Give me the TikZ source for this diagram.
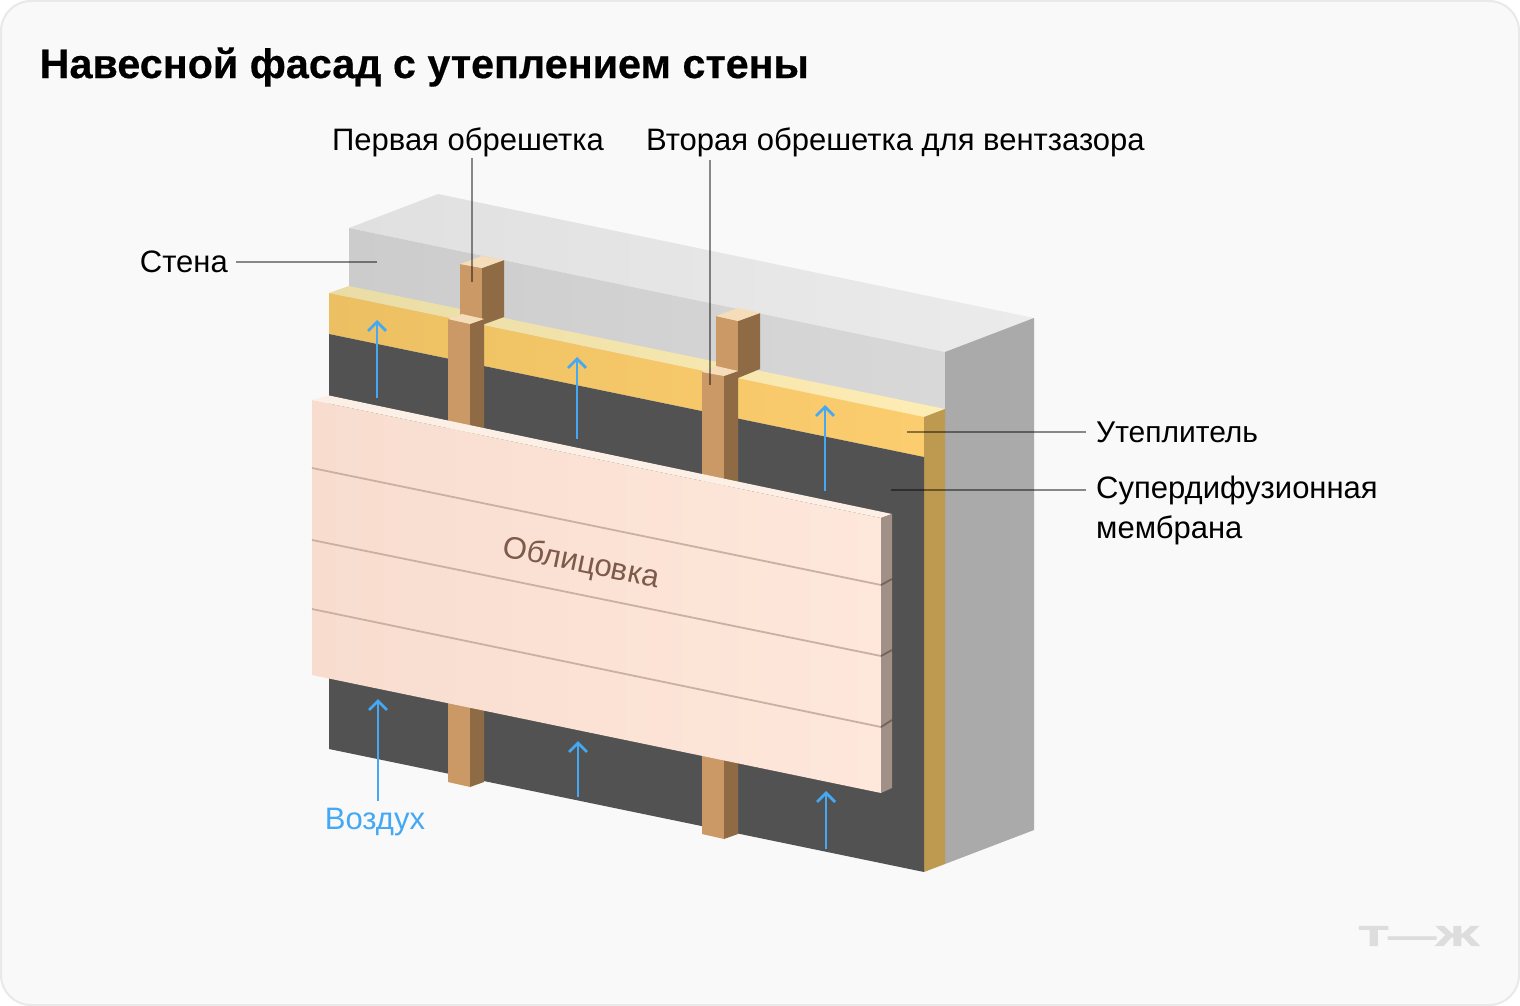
\documentclass[tikz,border=0pt]{standalone}
\usepackage{fontspec}
\setmainfont{Liberation Sans}
\newfontfamily\logofont[BoldFeatures={FakeBold=3}]{Liberation Sans}
\newfontfamily\headfont[BoldFeatures={FakeBold=0.4}]{Liberation Sans}
\usetikzlibrary{positioning, arrows.meta}
\definecolor{paper}{HTML}{F9F9F9}
\definecolor{paperline}{HTML}{E9E9E9}
\definecolor{airblue}{HTML}{45A8F5}
\definecolor{membrane}{HTML}{525252}
\definecolor{battenfront}{HTML}{CB9965}
\definecolor{battenside}{HTML}{8F6B45}
\definecolor{battentop}{HTML}{F5DDB9}
\definecolor{walltopl}{HTML}{E0E0E0}
\definecolor{walltopr}{HTML}{EBEBEB}
\definecolor{wallfrontl}{HTML}{CCCCCC}
\definecolor{wallfrontr}{HTML}{D8D8D8}
\definecolor{wallside}{HTML}{AAAAAA}
\definecolor{insultopl}{HTML}{E9DCA5}
\definecolor{insultopr}{HTML}{FEEDB5}
\definecolor{insulfrontl}{HTML}{ECC062}
\definecolor{insulfrontr}{HTML}{FCCD6E}
\definecolor{insulside}{HTML}{BD9A50}
\definecolor{cladl}{HTML}{F8DDCF}
\definecolor{cladr}{HTML}{FEE7DB}
\definecolor{cladtop}{HTML}{FCF0E6}
\definecolor{cladside}{HTML}{A19086}
\definecolor{cladseam}{HTML}{C9B0A2}
\definecolor{cladtext}{HTML}{7D5A4A}
\definecolor{logogrey}{HTML}{DDDDDD}
\tikzset{
callout/.style={inner sep=0pt, font=\fontsize{31}{40}\selectfont, text=black}, % the black captions
leader/.style={draw=black, draw opacity=0.45, line width=2pt}, % thin grey lines from the captions
airflow/.style={draw=airblue, line width=2.8pt, -{Straight Barb[length=9pt, width=18pt, line width=2.8pt]}}, % blue arrows
}
\begin{document}
\begin{tikzpicture}[x=1pt, y=-1pt]
            \useasboundingbox (0,0) rectangle (1520,1006);
            \fill[white] (0,0) rectangle (1520,1006);
            \draw[fill=paper, draw=paperline, line width=2pt, rounded corners=30pt] (1,1) rectangle (1519,1005);

            % wall
            \shade[left color=walltopl, right color=walltopr] (349,228) -- (438,194) -- (1034,318) -- (945,352) -- cycle;
            \shade[left color=wallfrontl, right color=wallfrontr] (349,228) -- (945,352) -- (945,420) -- (349,300) -- cycle;
            \fill[wallside] (945,352) -- (1034,318) -- (1034,830) -- (945,864) -- cycle;

            % insulation
            \shade[left color=insultopl, right color=insultopr] (329,293) -- (349,286) -- (945,409) -- (924,417) -- cycle;
            \shade[left color=insulfrontl, right color=insulfrontr] (329,293) -- (924,417) -- (924,457) -- (329,334) -- cycle;
            \fill[insulside] (924,417) -- (945,409) -- (945,864) -- (924,872) -- cycle;

            % membrane
            \fill[membrane] (329,334) -- (924,457) -- (924,872) -- (329,749) -- cycle;

            % first laths
            \fill[battenfront] (460,264) -- (482,268) -- (482,330) -- (460,325) -- cycle;
            \fill[battenside] (482,268) -- (504,260) -- (504,317) -- (482,325) -- cycle;
            \fill[battentop] (460,264) -- (482,256) -- (504,260) -- (482,268) -- cycle;
            \fill[battenfront] (716,316) -- (738,321) -- (738,380) -- (716,375) -- cycle;
            \fill[battenside] (738,321) -- (760,313) -- (760,369) -- (738,378) -- cycle;
            \fill[battentop] (716,316) -- (738,308) -- (760,313) -- (738,321) -- cycle;

            % second laths
            \fill[battenfront] (448,319) -- (470,324) -- (470,787) -- (448,782) -- cycle;
            \fill[battenside] (470,324) -- (484,319) -- (484,782) -- (470,787) -- cycle;
            \fill[battentop] (448,319) -- (462,314) -- (484,319) -- (470,324) -- cycle;
            \fill[battenfront] (702,372) -- (724,376) -- (724,839) -- (702,834) -- cycle;
            \fill[battenside] (724,376) -- (738,371) -- (738,834) -- (724,839) -- cycle;
            \fill[battentop] (702,372) -- (716,366) -- (738,371) -- (724,376) -- cycle;

            % cladding
            \shade[left color=cladl, right color=cladr] (312,400) -- (881,518) -- (881,793) -- (312,675) -- cycle;
            \fill[cladtop] (312,400) -- (329,395.5) -- (892,514) -- (881,518) -- cycle;
            \fill[cladside] (881,518) -- (892,514) -- (892,788) -- (881,793) -- cycle;
            \draw[cladseam, line width=1.8pt]
                (312,468) -- (881,585)
                (312,540) -- (881,656)
                (312,609) -- (881,727);
            \draw[black, opacity=0.3, line width=1.8pt]
                (881,585) -- (892,579)
                (881,656) -- (892,650)
                (881,727) -- (892,720);

            % captions
            \node[anchor=west, inner sep=0pt, font=\headfont\fontsize{41.3}{46}\bfseries] (title) at (39.5,67) {Навесной фасад с утеплением стены};
            \node[callout, anchor=east] (stena) at (228,262) {Стена};
            \node[callout, anchor=south] (first) at (468,157) {Первая обрешетка};
            \node[callout, anchor=south west] (second) at (646,157) {Вторая обрешетка для вентзазора};
            \node[callout, anchor=west, font=\fontsize{30}{40}\selectfont] (uteplitel) at (1096,432) {Утеплитель};
            \node[callout, anchor=north west, align=left] (superdif) at (1096,476) {Супердифузионная\\мембрана};
            \node[callout, text=cladtext, rotate=-11.7] (oblic) at (581,564) {Облицовка};
            \node[callout, text=airblue, anchor=north] (vozduh) at (375,808) {Воздух};
            \node[font=\logofont\fontsize{28}{28}\bfseries, text=logogrey, xscale=1.7, inner sep=0pt] (tj) at (1419,936) {Т—Ж};

            % ends of the lines and the arrows
            \coordinate (stenaend) at (377,262);
            \coordinate (firststart) at (472,158);
            \coordinate (firstend) at (472,282);
            \coordinate (secondstart) at (710,160);
            \coordinate (secondend) at (710,385);
            \coordinate (uteplstart) at (1086,432);
            \coordinate (uteplend) at (907,432);
            \coordinate (superstart) at (1086,490);
            \coordinate (superend) at (891,490);
            \coordinate (air1a) at (377,398);
            \coordinate (air1b) at (377,320);
            \coordinate (air2a) at (577,439);
            \coordinate (air2b) at (577,357);
            \coordinate (air3a) at (825,491);
            \coordinate (air3b) at (825,405);
            \coordinate (air4a) at (378,801);
            \coordinate (air4b) at (378,699);
            \coordinate (air5a) at (578,797);
            \coordinate (air5b) at (578,741);
            \coordinate (air6a) at (826,849);
            \coordinate (air6b) at (826,791);

            \draw
                ([xshift=8pt]stena.east) edge[leader] (stenaend)
                (firststart) edge[leader] (firstend)
                (secondstart) edge[leader] (secondend)
                (uteplstart) edge[leader] (uteplend)
                (superstart) edge[leader] (superend)
                (air1a) edge[airflow] (air1b)
                (air2a) edge[airflow] (air2b)
                (air3a) edge[airflow] (air3b)
                (air4a) edge[airflow] (air4b)
                (air5a) edge[airflow] (air5b)
                (air6a) edge[airflow] (air6b)
                ;
        \end{tikzpicture}
\end{document}
